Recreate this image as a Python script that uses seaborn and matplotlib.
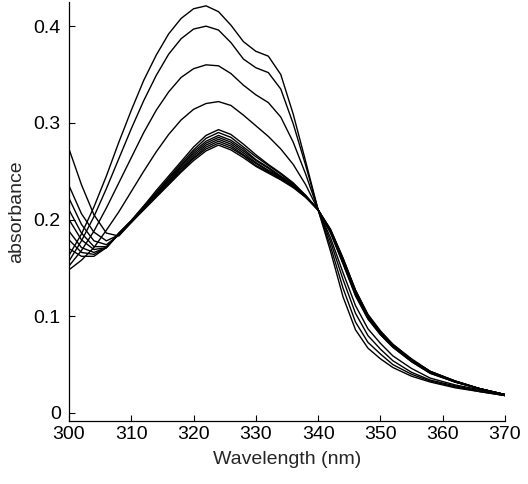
import numpy as np
import pandas as pd
import matplotlib
matplotlib.use("Agg")
import matplotlib.pyplot as plt
import seaborn as sns

# longueurs d'onde (nm)
wavelength = [300, 302, 304, 306, 308, 310, 312, 314, 316, 318, 320, 322, 324, 326, 328, 330,
              332, 334, 336, 338, 340, 342, 344, 346, 348, 350, 352, 355, 358, 362, 366, 370]

# spectres (absorbance)
spec_a = [0.163, 0.185, 0.213, 0.245, 0.280, 0.313, 0.344, 0.370, 0.392, 0.408, 0.418, 0.421, 0.415, 0.401, 0.384, 0.374,
          0.369, 0.350, 0.309, 0.260, 0.210, 0.167, 0.120, 0.086, 0.067, 0.056, 0.047, 0.038, 0.032, 0.026, 0.022, 0.018]
spec_b = [0.157, 0.178, 0.203, 0.232, 0.263, 0.294, 0.323, 0.349, 0.371, 0.387, 0.397, 0.400, 0.396, 0.383, 0.366, 0.357,
          0.352, 0.335, 0.299, 0.256, 0.210, 0.172, 0.129, 0.094, 0.073, 0.061, 0.050, 0.040, 0.033, 0.027, 0.022, 0.018]
spec_c = [0.152, 0.168, 0.188, 0.212, 0.238, 0.264, 0.290, 0.313, 0.332, 0.347, 0.356, 0.360, 0.359, 0.351, 0.339, 0.329,
          0.321, 0.306, 0.280, 0.247, 0.210, 0.177, 0.138, 0.103, 0.080, 0.066, 0.054, 0.042, 0.034, 0.028, 0.023, 0.018]
spec_d = [0.148, 0.158, 0.171, 0.189, 0.208, 0.229, 0.250, 0.270, 0.288, 0.303, 0.314, 0.320, 0.322, 0.318, 0.308, 0.297,
          0.286, 0.273, 0.257, 0.236, 0.210, 0.181, 0.145, 0.111, 0.087, 0.072, 0.059, 0.046, 0.036, 0.029, 0.024, 0.018]
spec_e = [0.170, 0.162, 0.162, 0.171, 0.186, 0.199, 0.214, 0.230, 0.245, 0.260, 0.275, 0.287, 0.293, 0.288, 0.278, 0.267,
          0.257, 0.248, 0.238, 0.225, 0.210, 0.186, 0.154, 0.121, 0.097, 0.081, 0.068, 0.053, 0.041, 0.032, 0.025, 0.019]
spec_f = [0.179, 0.166, 0.164, 0.171, 0.186, 0.199, 0.214, 0.228, 0.243, 0.258, 0.272, 0.284, 0.290, 0.285, 0.275, 0.265,
          0.256, 0.247, 0.237, 0.225, 0.210, 0.187, 0.155, 0.122, 0.098, 0.081, 0.068, 0.053, 0.041, 0.032, 0.025, 0.019]
spec_g = [0.188, 0.171, 0.166, 0.171, 0.185, 0.198, 0.213, 0.227, 0.242, 0.256, 0.270, 0.281, 0.287, 0.282, 0.273, 0.262,
          0.254, 0.245, 0.236, 0.224, 0.210, 0.187, 0.156, 0.123, 0.098, 0.082, 0.069, 0.054, 0.042, 0.032, 0.025, 0.019]
spec_h = [0.200, 0.179, 0.169, 0.171, 0.185, 0.198, 0.212, 0.226, 0.240, 0.255, 0.268, 0.279, 0.285, 0.280, 0.271, 0.261,
          0.253, 0.244, 0.235, 0.224, 0.210, 0.188, 0.157, 0.124, 0.099, 0.082, 0.069, 0.054, 0.042, 0.032, 0.025, 0.019]
spec_i = [0.210, 0.186, 0.172, 0.172, 0.185, 0.198, 0.212, 0.226, 0.240, 0.253, 0.266, 0.277, 0.283, 0.278, 0.269, 0.259,
          0.251, 0.244, 0.235, 0.224, 0.210, 0.188, 0.158, 0.125, 0.100, 0.083, 0.070, 0.055, 0.042, 0.033, 0.025, 0.019]
spec_j = [0.222, 0.195, 0.178, 0.174, 0.184, 0.198, 0.211, 0.225, 0.238, 0.252, 0.264, 0.275, 0.281, 0.276, 0.267, 0.258,
          0.250, 0.243, 0.234, 0.224, 0.210, 0.189, 0.159, 0.126, 0.100, 0.083, 0.070, 0.055, 0.043, 0.033, 0.025, 0.019]
spec_k = [0.235, 0.206, 0.187, 0.178, 0.184, 0.197, 0.211, 0.224, 0.237, 0.250, 0.263, 0.273, 0.279, 0.274, 0.266, 0.256,
          0.249, 0.242, 0.234, 0.223, 0.210, 0.189, 0.160, 0.127, 0.101, 0.084, 0.071, 0.055, 0.043, 0.033, 0.025, 0.019]
spec_l = [0.273, 0.236, 0.205, 0.186, 0.183, 0.197, 0.210, 0.223, 0.236, 0.249, 0.261, 0.271, 0.277, 0.272, 0.264, 0.255,
          0.248, 0.241, 0.233, 0.223, 0.210, 0.190, 0.160, 0.127, 0.102, 0.085, 0.071, 0.056, 0.043, 0.033, 0.025, 0.019]

spectres = {"a": spec_a, "b": spec_b, "c": spec_c, "d": spec_d, "e": spec_e, "f": spec_f,
            "g": spec_g, "h": spec_h, "i": spec_i, "j": spec_j, "k": spec_k, "l": spec_l}

# tableau long pour seaborn
lignes = []
for nom, vals in spectres.items():
    for w, v in zip(wavelength, vals):
        lignes.append({"wl": w, "abs": v, "spectre": nom})
df = pd.DataFrame(lignes)

sns.set_style("ticks")
plt.rcParams["font.family"] = ["Liberation Sans", "DejaVu Sans"]

fig = plt.figure(figsize=(5.28, 4.84), dpi=100)
ax = fig.add_axes([0.1307, 0.1302, 0.8257, 0.8657])

sns.lineplot(data=df, x="wl", y="abs", hue="spectre", units="spectre", estimator=None,
             palette=["black"] * len(spectres), linewidth=1.0, legend=False, ax=ax)

ax.set_xlim(300, 370)
ax.set_ylim(-0.0083, 0.425)
ax.set_xticks([300, 310, 320, 330, 340, 350, 360, 370])
ax.set_yticks([0, 0.1, 0.2, 0.3, 0.4])
ax.set_yticklabels(["0", "0.1", "0.2", "0.3", "0.4"])
ax.tick_params(direction="in", length=4, width=0.8, labelsize=14, colors="black")
ax.tick_params(axis="y", pad=6)
ax.set_xlabel("Wavelength (nm)", fontsize=14, labelpad=6)
ax.set_ylabel("absorbance", fontsize=14, labelpad=6)
for s in ["left", "bottom"]:
    ax.spines[s].set_linewidth(0.9)
    ax.spines[s].set_color("black")
sns.despine(ax=ax)

fig.savefig("out.png", dpi=100)
